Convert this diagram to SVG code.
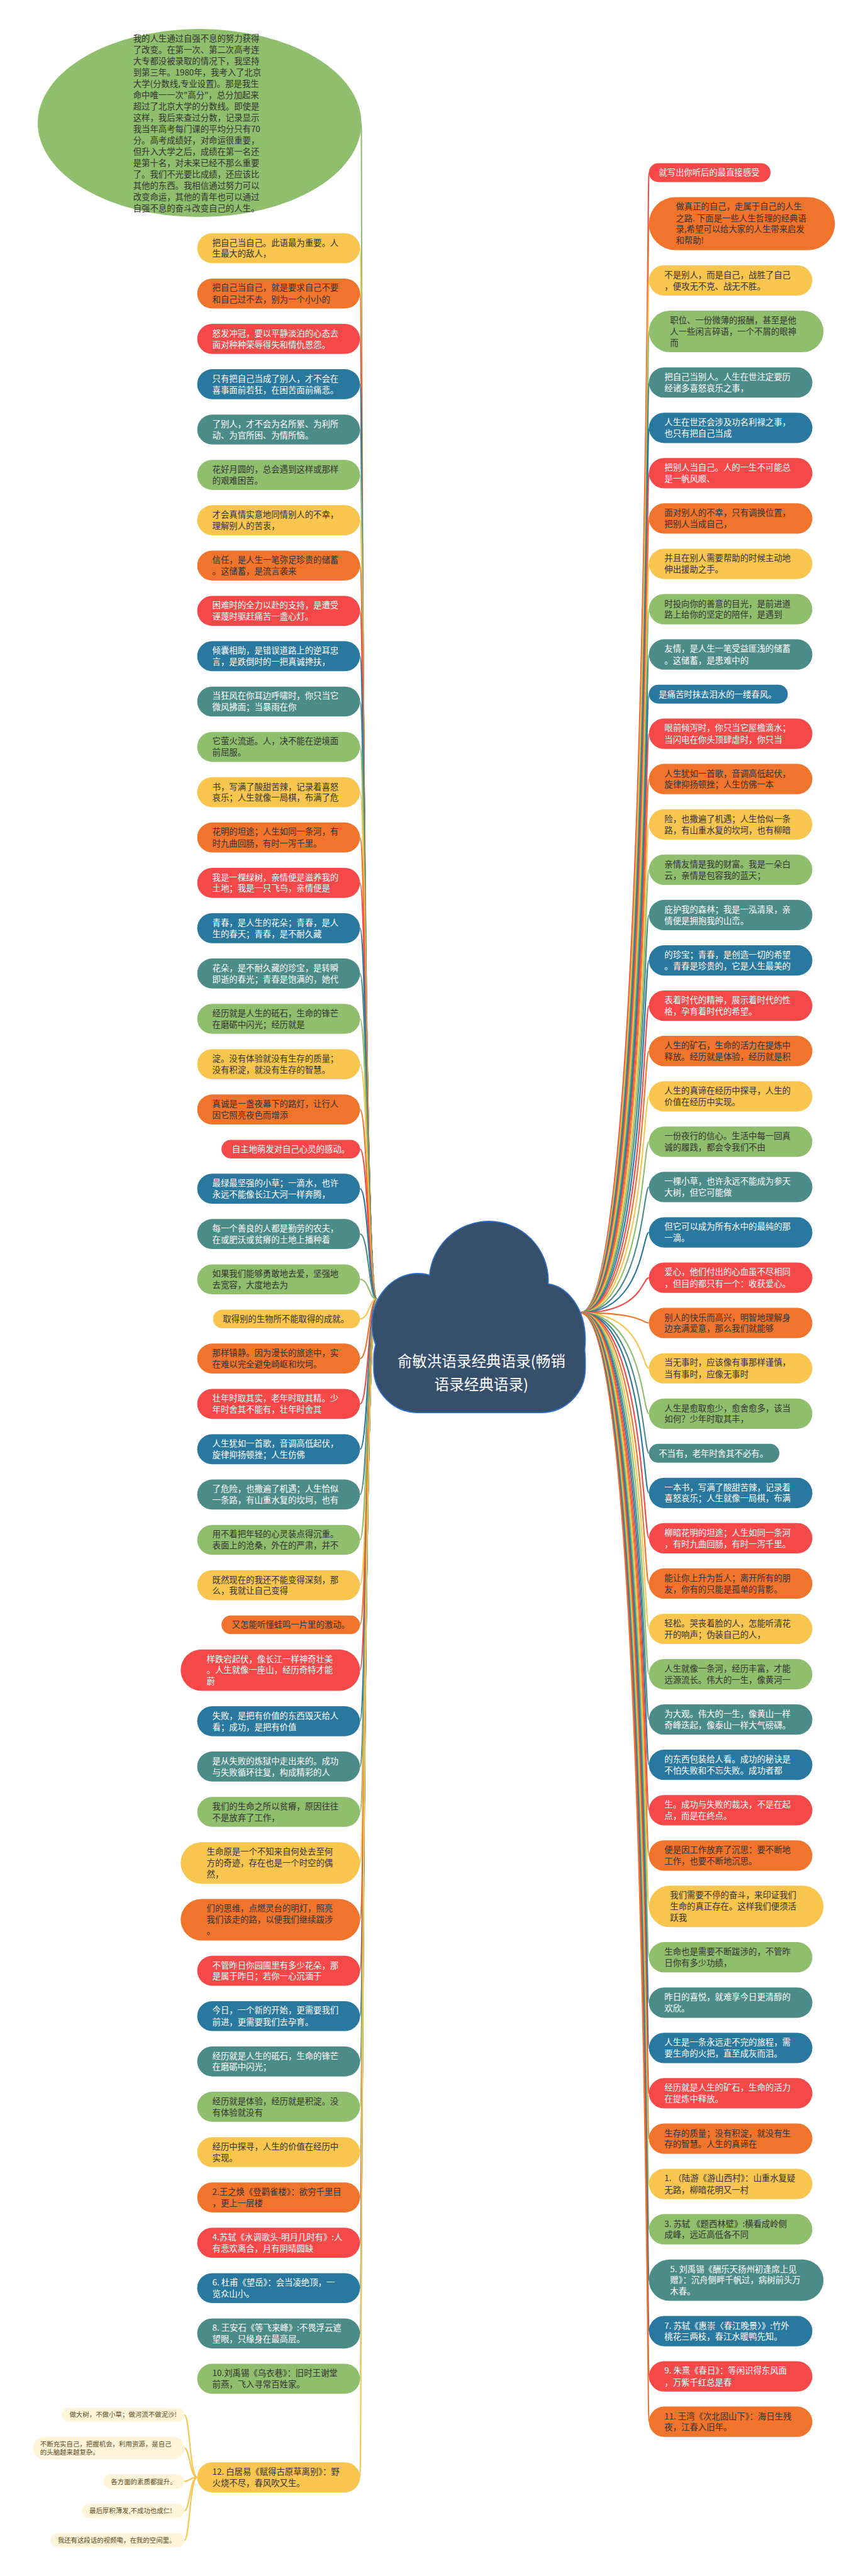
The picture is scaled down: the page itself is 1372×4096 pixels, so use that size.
<svg xmlns="http://www.w3.org/2000/svg" width="1372" height="4096" viewBox="0 0 1372 4096">
<style>
text{font-family:"Noto Sans CJK SC","Noto Sans",sans-serif;font-size:25px}
.d{fill:#333333}
.w{fill:#ffffff}
.g{fill:#8fbe6c}.y{fill:#f8c54e}.o{fill:#f0742c}.r{fill:#f54949}.b{fill:#2878a0}.t{fill:#4b8c88}
#edges path{fill:none;stroke-width:4}
.sg{stroke:#8fbe6c}.sy{stroke:#f8c54e}.so{stroke:#f0742c}.sr{stroke:#f54949}.sb{stroke:#2878a0}.st{stroke:#4b8c88}
.k rect{fill:#fdf4da}
.k text{font-size:19.5px;fill:#5c4b22}
.c text{font-size:44px;fill:#ffffff}
</style>
<rect width="1372" height="4096" fill="#ffffff"/>
<g transform="scale(0.5359)">
<g id="edges">
<path class="sg" d="M1118 3855C1073 3855 1073 365 1072 365"/>
<path class="sy" d="M1118 3855C1075 3855 1075 736.5 1068 736.5"/>
<path class="so" d="M1118 3855C1076 3855 1076 871 1068 871"/>
<path class="sr" d="M1118 3855C1077 3855 1077 1005.5 1068 1005.5"/>
<path class="sb" d="M1118 3855C1078 3855 1078 1140 1068 1140"/>
<path class="st" d="M1118 3855C1079 3855 1079 1274.5 1068 1274.5"/>
<path class="sg" d="M1118 3855C1080 3855 1080 1409 1068 1409"/>
<path class="sy" d="M1118 3855C1080 3855 1080 1543.5 1068 1543.5"/>
<path class="so" d="M1118 3855C1081 3855 1081 1678 1068 1678"/>
<path class="sr" d="M1118 3855C1082 3855 1082 1812.5 1068 1812.5"/>
<path class="sb" d="M1118 3855C1083 3855 1083 1947 1068 1947"/>
<path class="st" d="M1118 3855C1084 3855 1084 2081.5 1068 2081.5"/>
<path class="sg" d="M1118 3855C1085 3855 1085 2216 1068 2216"/>
<path class="sy" d="M1118 3855C1086 3855 1086 2350.5 1068 2350.5"/>
<path class="so" d="M1118 3855C1086 3855 1086 2485 1068 2485"/>
<path class="sr" d="M1118 3855C1087 3855 1087 2619.5 1068 2619.5"/>
<path class="sb" d="M1118 3855C1088 3855 1088 2754 1068 2754"/>
<path class="st" d="M1118 3855C1089 3855 1089 2888.5 1068 2888.5"/>
<path class="sg" d="M1118 3855C1090 3855 1090 3023 1068 3023"/>
<path class="sy" d="M1118 3855C1091 3855 1091 3157.5 1068 3157.5"/>
<path class="so" d="M1118 3855C1091 3855 1091 3292 1068 3292"/>
<path class="sr" d="M1118 3855C1092 3855 1092 3409.5 1068 3409.5"/>
<path class="sb" d="M1118 3855C1093 3855 1093 3527 1068 3527"/>
<path class="st" d="M1118 3855C1094 3855 1094 3661.5 1068 3661.5"/>
<path class="sg" d="M1118 3855C1095 3855 1095 3796 1068 3796"/>
<path class="sy" d="M1118 3855C1095 3855 1095 3913.5 1068 3913.5"/>
<path class="so" d="M1118 3855C1094 3855 1094 4031 1068 4031"/>
<path class="sr" d="M1118 3855C1093 3855 1093 4165.5 1068 4165.5"/>
<path class="sb" d="M1118 3855C1092 3855 1092 4300 1068 4300"/>
<path class="st" d="M1118 3855C1091 3855 1091 4434.5 1068 4434.5"/>
<path class="sg" d="M1118 3855C1090 3855 1090 4569 1068 4569"/>
<path class="sy" d="M1118 3855C1090 3855 1090 4703.5 1068 4703.5"/>
<path class="so" d="M1118 3855C1089 3855 1089 4821 1068 4821"/>
<path class="sr" d="M1118 3855C1088 3855 1088 4955.5 1068 4955.5"/>
<path class="sb" d="M1118 3855C1087 3855 1087 5107 1068 5107"/>
<path class="st" d="M1118 3855C1086 3855 1086 5241.5 1068 5241.5"/>
<path class="sg" d="M1118 3855C1085 3855 1085 5376 1068 5376"/>
<path class="sy" d="M1118 3855C1084 3855 1084 5527.5 1068 5527.5"/>
<path class="so" d="M1118 3855C1083 3855 1083 5696 1068 5696"/>
<path class="sr" d="M1118 3855C1082 3855 1082 5847.5 1068 5847.5"/>
<path class="sb" d="M1118 3855C1082 3855 1082 5982 1068 5982"/>
<path class="st" d="M1118 3855C1081 3855 1081 6116.5 1068 6116.5"/>
<path class="sg" d="M1118 3855C1080 3855 1080 6251 1068 6251"/>
<path class="sy" d="M1118 3855C1079 3855 1079 6385.5 1068 6385.5"/>
<path class="so" d="M1118 3855C1078 3855 1078 6520 1068 6520"/>
<path class="sr" d="M1118 3855C1077 3855 1077 6654.5 1068 6654.5"/>
<path class="sb" d="M1118 3855C1077 3855 1077 6789 1068 6789"/>
<path class="st" d="M1118 3855C1076 3855 1076 6923.5 1068 6923.5"/>
<path class="sg" d="M1118 3855C1075 3855 1075 7058 1068 7058"/>
<path class="sy" d="M1118 3855C1073 3855 1073 7350.5 1068 7350.5"/>
<path class="sr" d="M1722 3895C1920 3895 1920 512 1925 512"/>
<path class="so" d="M1722 3895C1919 3895 1919 663.5 1925 663.5"/>
<path class="sy" d="M1722 3895C1918.5 3895 1918.5 832 1925 832"/>
<path class="sg" d="M1722 3895C1918 3895 1918 983.5 1925 983.5"/>
<path class="st" d="M1722 3895C1917 3895 1917 1135 1925 1135"/>
<path class="sb" d="M1722 3895C1916.5 3895 1916.5 1269.5 1925 1269.5"/>
<path class="sr" d="M1722 3895C1916 3895 1916 1404 1925 1404"/>
<path class="so" d="M1722 3895C1915.5 3895 1915.5 1538.5 1925 1538.5"/>
<path class="sy" d="M1722 3895C1915 3895 1915 1673 1925 1673"/>
<path class="sg" d="M1722 3895C1914 3895 1914 1807.5 1925 1807.5"/>
<path class="st" d="M1722 3895C1913.5 3895 1913.5 1942 1925 1942"/>
<path class="sb" d="M1722 3895C1913 3895 1913 2059.5 1925 2059.5"/>
<path class="sr" d="M1722 3895C1912.5 3895 1912.5 2177 1925 2177"/>
<path class="so" d="M1722 3895C1912 3895 1912 2311.5 1925 2311.5"/>
<path class="sy" d="M1722 3895C1911.5 3895 1911.5 2446 1925 2446"/>
<path class="sg" d="M1722 3895C1911 3895 1911 2580.5 1925 2580.5"/>
<path class="st" d="M1722 3895C1910 3895 1910 2715 1925 2715"/>
<path class="sb" d="M1722 3895C1909.5 3895 1909.5 2849.5 1925 2849.5"/>
<path class="sr" d="M1722 3895C1909 3895 1909 2984 1925 2984"/>
<path class="so" d="M1722 3895C1908.5 3895 1908.5 3118.5 1925 3118.5"/>
<path class="sy" d="M1722 3895C1908 3895 1908 3253 1925 3253"/>
<path class="sg" d="M1722 3895C1907 3895 1907 3387.5 1925 3387.5"/>
<path class="st" d="M1722 3895C1906.5 3895 1906.5 3522 1925 3522"/>
<path class="sb" d="M1722 3895C1906 3895 1906 3656.5 1925 3656.5"/>
<path class="sr" d="M1722 3895C1905.5 3895 1905.5 3791 1925 3791"/>
<path class="so" d="M1722 3895C1905 3895 1905 3925.5 1925 3925.5"/>
<path class="sy" d="M1722 3895C1905.5 3895 1905.5 4060 1925 4060"/>
<path class="sg" d="M1722 3895C1906 3895 1906 4194.5 1925 4194.5"/>
<path class="st" d="M1722 3895C1907 3895 1907 4312 1925 4312"/>
<path class="sb" d="M1722 3895C1907.5 3895 1907.5 4429.5 1925 4429.5"/>
<path class="sr" d="M1722 3895C1908 3895 1908 4564 1925 4564"/>
<path class="so" d="M1722 3895C1908.5 3895 1908.5 4698.5 1925 4698.5"/>
<path class="sy" d="M1722 3895C1909 3895 1909 4833 1925 4833"/>
<path class="sg" d="M1722 3895C1909.5 3895 1909.5 4967.5 1925 4967.5"/>
<path class="st" d="M1722 3895C1910 3895 1910 5102 1925 5102"/>
<path class="sb" d="M1722 3895C1911 3895 1911 5236.5 1925 5236.5"/>
<path class="sr" d="M1722 3895C1911.5 3895 1911.5 5371 1925 5371"/>
<path class="so" d="M1722 3895C1912 3895 1912 5505.5 1925 5505.5"/>
<path class="sy" d="M1722 3895C1913 3895 1913 5656.5 1925 5656.5"/>
<path class="sg" d="M1722 3895C1913.5 3895 1913.5 5807.5 1925 5807.5"/>
<path class="st" d="M1722 3895C1914 3895 1914 5942 1925 5942"/>
<path class="sb" d="M1722 3895C1914.5 3895 1914.5 6076.5 1925 6076.5"/>
<path class="sr" d="M1722 3895C1915 3895 1915 6211 1925 6211"/>
<path class="so" d="M1722 3895C1916 3895 1916 6345.5 1925 6345.5"/>
<path class="sy" d="M1722 3895C1916.5 3895 1916.5 6480 1925 6480"/>
<path class="sg" d="M1722 3895C1917 3895 1917 6614.5 1925 6614.5"/>
<path class="st" d="M1722 3895C1917.5 3895 1917.5 6765.5 1925 6765.5"/>
<path class="sb" d="M1722 3895C1918 3895 1918 6916.5 1925 6916.5"/>
<path class="sr" d="M1722 3895C1919 3895 1919 7051 1925 7051"/>
<path class="so" d="M1722 3895C1919.5 3895 1919.5 7185.5 1925 7185.5"/>
<path class="sy" d="M585 7350.5C563 7350.5 563 7164.5 547 7164.5"/>
<path class="sy" d="M585 7350.5C563 7350.5 563 7263.5 547 7263.5"/>
<path class="sy" d="M585 7350.5C563 7350.5 563 7362.5 547 7362.5"/>
<path class="sy" d="M585 7350.5C563 7350.5 563 7450 547 7450"/>
<path class="sy" d="M585 7350.5C563 7350.5 563 7537 547 7537"/>
</g>

<g id="center" class="c">
<g fill="none" stroke="#2f6fd0" stroke-width="6">
<circle cx="1450" cy="3800" r="175"/><ellipse cx="1240" cy="3930" rx="135" ry="150"/><ellipse cx="1615" cy="3975" rx="120" ry="165"/><rect x="1110" y="3900" width="625" height="290" rx="130"/>
</g>
<g fill="#36506c">
<circle cx="1450" cy="3800" r="175"/><ellipse cx="1240" cy="3930" rx="135" ry="150"/><ellipse cx="1615" cy="3975" rx="120" ry="165"/><rect x="1110" y="3900" width="625" height="290" rx="130"/>
</g>
<text x="1428" y="4054" text-anchor="middle">俞敏洪语录经典语录(畅销</text>
<text x="1428" y="4123" text-anchor="middle">语录经典语录)</text>
</g>

<g id="L0"><ellipse class="g" cx="592" cy="365" rx="480" ry="279"/>
<text class="d"><tspan x="395" y="123">我的人生通过自强不息的努力获得</tspan><tspan x="395" y="156.6">了改变。在第一次、第二次高考连</tspan><tspan x="395" y="190.2">大专都没被录取的情况下，我坚持</tspan><tspan x="395" y="223.8">到第三年。1980年，我考入了北京</tspan><tspan x="395" y="257.4">大学(分数线,专业设置)。那是我生</tspan><tspan x="395" y="291">命中唯一一次"高分"，总分加起来</tspan><tspan x="395" y="324.6">超过了北京大学的分数线。即使是</tspan><tspan x="395" y="358.2">这样，我后来查过分数，记录显示</tspan><tspan x="395" y="391.8">我当年高考每门课的平均分只有70</tspan><tspan x="395" y="425.4">分。高考成绩好，对命运很重要，</tspan><tspan x="395" y="459">但升入大学之后，成绩在第一名还</tspan><tspan x="395" y="492.6">是第十名，对未来已经不那么重要</tspan><tspan x="395" y="526.2">了。我们不光要比成绩，还应该比</tspan><tspan x="395" y="559.8">其他的东西。我相信通过努力可以</tspan><tspan x="395" y="593.4">改变命运，其他的青年也可以通过</tspan><tspan x="395" y="627">自强不息的奋斗改变自己的人生。</tspan></text></g>

<g id="L1"><rect class="y" x="585" y="692" width="483" height="89" rx="44.5"/><text class="d"><tspan x="630" y="729">把自己当自己。此语最为重要。人</tspan><tspan x="630" y="762">生最大的敌人，</tspan></text></g>
<g id="L2"><rect class="o" x="585" y="826.5" width="483" height="89" rx="44.5"/><text class="d"><tspan x="630" y="863">把自己当自己，就是要求自己不要</tspan><tspan x="630" y="897">和自己过不去，别为一个小小的</tspan></text></g>
<g id="L3"><rect class="r" x="585" y="961" width="483" height="89" rx="44.5"/><text class="w"><tspan x="630" y="998">怒发冲冠，要以平静淡泊的心态去</tspan><tspan x="630" y="1031">面对种种荣辱得失和情仇恩怨。</tspan></text></g>
<g id="L4"><rect class="b" x="585" y="1095.5" width="483" height="89" rx="44.5"/><text class="w"><tspan x="630" y="1132">只有把自己当成了别人，才不会在</tspan><tspan x="630" y="1166">喜事面前若狂，在困苦面前痛悲。</tspan></text></g>
<g id="L5"><rect class="t" x="585" y="1230" width="483" height="89" rx="44.5"/><text class="w"><tspan x="630" y="1267">了别人，才不会为名所累、为利所</tspan><tspan x="630" y="1300">动、为官所困、为情所恼。</tspan></text></g>
<g id="L6"><rect class="g" x="585" y="1364.5" width="483" height="89" rx="44.5"/><text class="d"><tspan x="630" y="1401">花好月圆的，总会遇到这样或那样</tspan><tspan x="630" y="1435">的艰难困苦。</tspan></text></g>
<g id="L7"><rect class="y" x="585" y="1499" width="483" height="89" rx="44.5"/><text class="d"><tspan x="630" y="1536">才会真情实意地同情别人的不幸，</tspan><tspan x="630" y="1569">理解别人的苦衷，</tspan></text></g>
<g id="L8"><rect class="o" x="585" y="1633.5" width="483" height="89" rx="44.5"/><text class="d"><tspan x="630" y="1670">信任，是人生一笔弥足珍贵的储蓄</tspan><tspan x="630" y="1704">。这储蓄，是流言袭来</tspan></text></g>
<g id="L9"><rect class="r" x="585" y="1768" width="483" height="89" rx="44.5"/><text class="w"><tspan x="630" y="1805">困难时的全力以赴的支持，是遭受</tspan><tspan x="630" y="1838">诬蔑时驱赶痛苦一盏心灯。</tspan></text></g>
<g id="L10"><rect class="b" x="585" y="1902.5" width="483" height="89" rx="44.5"/><text class="w"><tspan x="630" y="1939">倾囊相助，是错误道路上的逆耳忠</tspan><tspan x="630" y="1973">言，是跌倒时的一把真诚搀扶，</tspan></text></g>
<g id="L11"><rect class="t" x="585" y="2037" width="483" height="89" rx="44.5"/><text class="w"><tspan x="630" y="2074">当狂风在你耳边呼啸时，你只当它</tspan><tspan x="630" y="2107">微风拂面；当暴雨在你</tspan></text></g>
<g id="L12"><rect class="g" x="585" y="2171.5" width="483" height="89" rx="44.5"/><text class="d"><tspan x="630" y="2208">它萤火流逝。人，决不能在逆境面</tspan><tspan x="630" y="2242">前屈服。</tspan></text></g>
<g id="L13"><rect class="y" x="585" y="2306" width="483" height="89" rx="44.5"/><text class="d"><tspan x="630" y="2343">书，写满了酸甜苦辣，记录着喜怒</tspan><tspan x="630" y="2376">哀乐；人生就像一局棋，布满了危</tspan></text></g>
<g id="L14"><rect class="o" x="585" y="2440.5" width="483" height="89" rx="44.5"/><text class="d"><tspan x="630" y="2477">花明的坦途；人生如同一条河，有</tspan><tspan x="630" y="2511">时九曲回肠，有时一泻千里。</tspan></text></g>
<g id="L15"><rect class="r" x="585" y="2575" width="483" height="89" rx="44.5"/><text class="w"><tspan x="630" y="2612">我是一棵绿树，亲情便是滋养我的</tspan><tspan x="630" y="2645">土地；我是一只飞鸟，亲情便是</tspan></text></g>
<g id="L16"><rect class="b" x="585" y="2709.5" width="483" height="89" rx="44.5"/><text class="w"><tspan x="630" y="2746">青春，是人生的花朵；青春，是人</tspan><tspan x="630" y="2780">生的春天；青春，是不耐久藏</tspan></text></g>
<g id="L17"><rect class="t" x="585" y="2844" width="483" height="89" rx="44.5"/><text class="w"><tspan x="630" y="2881">花朵，是不耐久藏的珍宝，是转瞬</tspan><tspan x="630" y="2914">即逝的春光；青春是饱满的，她代</tspan></text></g>
<g id="L18"><rect class="g" x="585" y="2978.5" width="483" height="89" rx="44.5"/><text class="d"><tspan x="630" y="3015">经历就是人生的砥石，生命的锋芒</tspan><tspan x="630" y="3049">在磨砺中闪光；经历就是</tspan></text></g>
<g id="L19"><rect class="y" x="585" y="3113" width="483" height="89" rx="44.5"/><text class="d"><tspan x="630" y="3150">淀。没有体验就没有生存的质量；</tspan><tspan x="630" y="3183">没有积淀，就没有生存的智慧。</tspan></text></g>
<g id="L20"><rect class="o" x="585" y="3247.5" width="483" height="89" rx="44.5"/><text class="d"><tspan x="630" y="3284">真诚是一盏夜幕下的路灯，让行人</tspan><tspan x="630" y="3318">因它照亮夜色而增添</tspan></text></g>
<g id="L21"><rect class="r" x="657" y="3382" width="411" height="55" rx="27.5"/><text class="w" x="688" y="3418.5">自主地萌发对自己心灵的感动。</text></g>
<g id="L22"><rect class="b" x="585" y="3482.5" width="483" height="89" rx="44.5"/><text class="w"><tspan x="630" y="3519">最绿最坚强的小草；一滴水，也许</tspan><tspan x="630" y="3553">永远不能像长江大河一样奔腾，</tspan></text></g>
<g id="L23"><rect class="t" x="585" y="3617" width="483" height="89" rx="44.5"/><text class="w"><tspan x="630" y="3654">每一个善良的人都是勤劳的农夫，</tspan><tspan x="630" y="3687">在或肥沃或贫瘠的土地上播种着</tspan></text></g>
<g id="L24"><rect class="g" x="585" y="3751.5" width="483" height="89" rx="44.5"/><text class="d"><tspan x="630" y="3788">如果我们能够勇敢地去爱，坚强地</tspan><tspan x="630" y="3822">去宽容，大度地去为</tspan></text></g>
<g id="L25"><rect class="y" x="632" y="3886" width="436" height="55" rx="27.5"/><text class="d" x="661" y="3922.5">取得别的生物所不能取得的成就。</text></g>
<g id="L26"><rect class="o" x="585" y="3986.5" width="483" height="89" rx="44.5"/><text class="d"><tspan x="630" y="4023">那样镇静。因为漫长的旅途中，实</tspan><tspan x="630" y="4057">在难以完全避免崎岖和坎坷。</tspan></text></g>
<g id="L27"><rect class="r" x="585" y="4121" width="483" height="89" rx="44.5"/><text class="w"><tspan x="630" y="4158">壮年时取其实，老年时取其精。少</tspan><tspan x="630" y="4191">年时舍其不能有，壮年时舍其</tspan></text></g>
<g id="L28"><rect class="b" x="585" y="4255.5" width="483" height="89" rx="44.5"/><text class="w"><tspan x="630" y="4292">人生犹如一首歌，音调高低起伏，</tspan><tspan x="630" y="4326">旋律抑扬顿挫；人生仿佛</tspan></text></g>
<g id="L29"><rect class="t" x="585" y="4390" width="483" height="89" rx="44.5"/><text class="w"><tspan x="630" y="4427">了危险，也撒遍了机遇；人生恰似</tspan><tspan x="630" y="4460">一条路，有山重水复的坎坷，也有</tspan></text></g>
<g id="L30"><rect class="g" x="585" y="4524.5" width="483" height="89" rx="44.5"/><text class="d"><tspan x="630" y="4561">用不着把年轻的心灵装点得沉重。</tspan><tspan x="630" y="4595">表面上的沧桑，外在的严肃，并不</tspan></text></g>
<g id="L31"><rect class="y" x="585" y="4659" width="483" height="89" rx="44.5"/><text class="d"><tspan x="630" y="4696">既然现在的我还不能变得深刻，那</tspan><tspan x="630" y="4729">么，我就让自己变得</tspan></text></g>
<g id="L32"><rect class="o" x="657" y="4793.5" width="411" height="55" rx="27.5"/><text class="d" x="688" y="4830">又怎能听懂蛙鸣一片里的激动。</text></g>
<g id="L33"><rect class="r" x="536" y="4894" width="532" height="123" rx="61.5"/><text class="w"><tspan x="613" y="4931">样跌宕起伏，像长江一样神奇壮美</tspan><tspan x="613" y="4964.5">。人生就像一座山，经历奇特才能</tspan><tspan x="613" y="4998">蔚</tspan></text></g>
<g id="L34"><rect class="b" x="585" y="5062.5" width="483" height="89" rx="44.5"/><text class="w"><tspan x="630" y="5099">失败，是把有价值的东西毁灭给人</tspan><tspan x="630" y="5133">看；成功，是把有价值</tspan></text></g>
<g id="L35"><rect class="t" x="585" y="5197" width="483" height="89" rx="44.5"/><text class="w"><tspan x="630" y="5234">是从失败的炼狱中走出来的。成功</tspan><tspan x="630" y="5267">与失败循环往复，构成精彩的人</tspan></text></g>
<g id="L36"><rect class="g" x="585" y="5331.5" width="483" height="89" rx="44.5"/><text class="d"><tspan x="630" y="5368">我们的生命之所以贫瘠，原因往往</tspan><tspan x="630" y="5402">不是放弃了工作，</tspan></text></g>
<g id="L37"><rect class="y" x="536" y="5466" width="532" height="123" rx="61.5"/><text class="d"><tspan x="613" y="5503">生命原是一个不知来自何处去至何</tspan><tspan x="613" y="5536.5">方的奇迹，存在也是一个时空的偶</tspan><tspan x="613" y="5570">然，</tspan></text></g>
<g id="L38"><rect class="o" x="536" y="5634.5" width="532" height="123" rx="61.5"/><text class="d"><tspan x="613" y="5671.5">们的思维，点燃灵台的明灯，照亮</tspan><tspan x="613" y="5705">我们该走的路，以便我们继续跋涉</tspan><tspan x="613" y="5738.5">。</tspan></text></g>
<g id="L39"><rect class="r" x="585" y="5803" width="483" height="89" rx="44.5"/><text class="w"><tspan x="630" y="5840">不管昨日你园圃里有多少花朵，那</tspan><tspan x="630" y="5873">是属于昨日；若你一心沉湎于</tspan></text></g>
<g id="L40"><rect class="b" x="585" y="5937.5" width="483" height="89" rx="44.5"/><text class="w"><tspan x="630" y="5974">今日，一个新的开始，更需要我们</tspan><tspan x="630" y="6008">前进，更需要我们去孕育。</tspan></text></g>
<g id="L41"><rect class="t" x="585" y="6072" width="483" height="89" rx="44.5"/><text class="w"><tspan x="630" y="6109">经历就是人生的砥石，生命的锋芒</tspan><tspan x="630" y="6142">在磨砺中闪光；</tspan></text></g>
<g id="L42"><rect class="g" x="585" y="6206.5" width="483" height="89" rx="44.5"/><text class="d"><tspan x="630" y="6243">经历就是体验，经历就是积淀。没</tspan><tspan x="630" y="6277">有体验就没有</tspan></text></g>
<g id="L43"><rect class="y" x="585" y="6341" width="483" height="89" rx="44.5"/><text class="d"><tspan x="630" y="6378">经历中探寻，人生的价值在经历中</tspan><tspan x="630" y="6411">实现。</tspan></text></g>
<g id="L44"><rect class="o" x="585" y="6475.5" width="483" height="89" rx="44.5"/><text class="d"><tspan x="630" y="6512">2.王之焕《登鹳雀楼》：欲穷千里目</tspan><tspan x="630" y="6546">，更上一层楼</tspan></text></g>
<g id="L45"><rect class="r" x="585" y="6610" width="483" height="89" rx="44.5"/><text class="w"><tspan x="630" y="6647">4.苏轼《水调歌头-明月几时有》:人</tspan><tspan x="630" y="6680">有悲欢离合，月有阴晴圆缺</tspan></text></g>
<g id="L46"><rect class="b" x="585" y="6744.5" width="483" height="89" rx="44.5"/><text class="w"><tspan x="630" y="6781">6. 杜甫《望岳》：会当凌绝顶，一</tspan><tspan x="630" y="6815">览众山小。</tspan></text></g>
<g id="L47"><rect class="t" x="585" y="6879" width="483" height="89" rx="44.5"/><text class="w"><tspan x="630" y="6916">8. 王安石《等飞来峰》:不畏浮云遮</tspan><tspan x="630" y="6949">望眼，只缘身在最高层。</tspan></text></g>
<g id="L48"><rect class="g" x="585" y="7013.5" width="483" height="89" rx="44.5"/><text class="d"><tspan x="630" y="7050">10.刘禹锡《乌衣巷》：旧时王谢堂</tspan><tspan x="630" y="7084">前燕，飞入寻常百姓家。</tspan></text></g>
<g id="L49"><rect class="y" x="585" y="7306" width="483" height="89" rx="44.5"/><text class="d"><tspan x="630" y="7343">12. 白居易《赋得古原草离别》：野</tspan><tspan x="630" y="7376">火烧不尽，春风吹又生。</tspan></text></g>

<g id="K1" class="k"><rect x="183" y="7144" width="364" height="41" rx="20.5"/><text x="206" y="7172">做大树，不做小草；做河流不做泥沙!</text></g>
<g id="K2" class="k"><rect x="98" y="7230" width="449" height="67" rx="33.5"/><text><tspan x="119" y="7258">不断充实自己，把握机会，利用资源，是自己</tspan><tspan x="119" y="7283">的头脑越来越复杂。</tspan></text></g>
<g id="K3" class="k"><rect x="307" y="7341" width="240" height="43" rx="21.5"/><text x="329" y="7370">各方面的素质都提升。</text></g>
<g id="K4" class="k"><rect x="243" y="7429" width="304" height="42" rx="21"/><text x="265" y="7457">最后厚积薄发,不成功也成仁!</text></g>
<g id="K5" class="k"><rect x="150" y="7516" width="397" height="42" rx="21"/><text x="171" y="7544">我还有这段话的视频嘞，在我的空间里。</text></g>

<g id="R1"><rect class="r" x="1925" y="484" width="361" height="56" rx="28"/><text class="w" x="1954" y="521">就写出你听后的最直接感受</text></g>
<g id="R2"><rect class="o" x="1925" y="585" width="552" height="157" rx="78.5"/><text class="d"><tspan x="2005" y="622">做真正的自己，走属于自己的人生</tspan><tspan x="2005" y="656">之路. 下面是一些人生哲理的经典语</tspan><tspan x="2005" y="689">录,希望可以给大家的人生带来启发</tspan><tspan x="2005" y="723">和帮助!</tspan></text></g>
<g id="R3"><rect class="y" x="1925" y="787" width="485" height="90" rx="45"/><text class="d"><tspan x="1971" y="824">不是别人，而是自己，战胜了自己</tspan><tspan x="1971" y="858">，便攻无不克、战无不胜。</tspan></text></g>
<g id="R4"><rect class="g" x="1925" y="922" width="518" height="123" rx="61.5"/><text class="d"><tspan x="1988" y="959">职位、一份微薄的报酬，甚至是他</tspan><tspan x="1988" y="992.5">人一些闲言碎语，一个不屑的眼神</tspan><tspan x="1988" y="1026">而</tspan></text></g>
<g id="R5"><rect class="t" x="1925" y="1090" width="485" height="90" rx="45"/><text class="w"><tspan x="1971" y="1127">把自己当别人。人生在世注定要历</tspan><tspan x="1971" y="1161">经诸多喜怒哀乐之事，</tspan></text></g>
<g id="R6"><rect class="b" x="1925" y="1224.5" width="485" height="90" rx="45"/><text class="w"><tspan x="1971" y="1262">人生在世还会涉及功名利禄之事，</tspan><tspan x="1971" y="1295">也只有把自己当成</tspan></text></g>
<g id="R7"><rect class="r" x="1925" y="1359" width="485" height="90" rx="45"/><text class="w"><tspan x="1971" y="1396">把别人当自己。人的一生不可能总</tspan><tspan x="1971" y="1430">是一帆风顺、</tspan></text></g>
<g id="R8"><rect class="o" x="1925" y="1493.5" width="485" height="90" rx="45"/><text class="d"><tspan x="1971" y="1531">面对别人的不幸，只有调换位置，</tspan><tspan x="1971" y="1564">把别人当成自己，</tspan></text></g>
<g id="R9"><rect class="y" x="1925" y="1628" width="485" height="90" rx="45"/><text class="d"><tspan x="1971" y="1665">并且在别人需要帮助的时候主动地</tspan><tspan x="1971" y="1699">伸出援助之手。</tspan></text></g>
<g id="R10"><rect class="g" x="1925" y="1762.5" width="485" height="90" rx="45"/><text class="d"><tspan x="1971" y="1800">时投向你的善意的目光，是前进道</tspan><tspan x="1971" y="1833">路上给你的坚定的陪伴，是遇到</tspan></text></g>
<g id="R11"><rect class="t" x="1925" y="1897" width="485" height="90" rx="45"/><text class="w"><tspan x="1971" y="1934">友情，是人生一笔受益匪浅的储蓄</tspan><tspan x="1971" y="1968">。这储蓄，是患难中的</tspan></text></g>
<g id="R12"><rect class="b" x="1925" y="2031.5" width="412" height="56" rx="28"/><text class="w" x="1954" y="2068.5">是痛苦时抹去泪水的一缕春风。</text></g>
<g id="R13"><rect class="r" x="1925" y="2132" width="485" height="90" rx="45"/><text class="w"><tspan x="1971" y="2169">眼前倾泻时，你只当它屋檐滴水；</tspan><tspan x="1971" y="2203">当闪电在你头顶肆虐时，你只当</tspan></text></g>
<g id="R14"><rect class="o" x="1925" y="2266.5" width="485" height="90" rx="45"/><text class="d"><tspan x="1971" y="2304">人生犹如一首歌，音调高低起伏，</tspan><tspan x="1971" y="2337">旋律抑扬顿挫；人生仿佛一本</tspan></text></g>
<g id="R15"><rect class="y" x="1925" y="2401" width="485" height="90" rx="45"/><text class="d"><tspan x="1971" y="2438">险，也撒遍了机遇；人生恰似一条</tspan><tspan x="1971" y="2472">路，有山重水复的坎坷，也有柳暗</tspan></text></g>
<g id="R16"><rect class="g" x="1925" y="2535.5" width="485" height="90" rx="45"/><text class="d"><tspan x="1971" y="2573">亲情友情是我的财富。我是一朵白</tspan><tspan x="1971" y="2606">云，亲情是包容我的蓝天；</tspan></text></g>
<g id="R17"><rect class="t" x="1925" y="2670" width="485" height="90" rx="45"/><text class="w"><tspan x="1971" y="2707">庇护我的森林；我是一泓清泉，亲</tspan><tspan x="1971" y="2741">情便是拥抱我的山峦。</tspan></text></g>
<g id="R18"><rect class="b" x="1925" y="2804.5" width="485" height="90" rx="45"/><text class="w"><tspan x="1971" y="2842">的珍宝；青春，是创造一切的希望</tspan><tspan x="1971" y="2875">。青春是珍贵的，它是人生最美的</tspan></text></g>
<g id="R19"><rect class="r" x="1925" y="2939" width="485" height="90" rx="45"/><text class="w"><tspan x="1971" y="2976">表着时代的精神，展示着时代的性</tspan><tspan x="1971" y="3010">格，孕育着时代的希望。</tspan></text></g>
<g id="R20"><rect class="o" x="1925" y="3073.5" width="485" height="90" rx="45"/><text class="d"><tspan x="1971" y="3111">人生的矿石，生命的活力在提炼中</tspan><tspan x="1971" y="3144">释放。经历就是体验，经历就是积</tspan></text></g>
<g id="R21"><rect class="y" x="1925" y="3208" width="485" height="90" rx="45"/><text class="d"><tspan x="1971" y="3245">人生的真谛在经历中探寻，人生的</tspan><tspan x="1971" y="3279">价值在经历中实现。</tspan></text></g>
<g id="R22"><rect class="g" x="1925" y="3342.5" width="485" height="90" rx="45"/><text class="d"><tspan x="1971" y="3380">一份夜行的信心。生活中每一回真</tspan><tspan x="1971" y="3413">诚的履践，都会令我们不由</tspan></text></g>
<g id="R23"><rect class="t" x="1925" y="3477" width="485" height="90" rx="45"/><text class="w"><tspan x="1971" y="3514">一棵小草，也许永远不能成为参天</tspan><tspan x="1971" y="3548">大树，但它可能做</tspan></text></g>
<g id="R24"><rect class="b" x="1925" y="3611.5" width="485" height="90" rx="45"/><text class="w"><tspan x="1971" y="3649">但它可以成为所有水中的最纯的那</tspan><tspan x="1971" y="3682">一滴。</tspan></text></g>
<g id="R25"><rect class="r" x="1925" y="3746" width="485" height="90" rx="45"/><text class="w"><tspan x="1971" y="3783">爱心，他们付出的心血虽不尽相同</tspan><tspan x="1971" y="3817">，但目的都只有一个：收获爱心。</tspan></text></g>
<g id="R26"><rect class="o" x="1925" y="3880.5" width="485" height="90" rx="45"/><text class="d"><tspan x="1971" y="3918">别人的快乐而高兴，明智地理解身</tspan><tspan x="1971" y="3951">边充满爱意，那么我们就能够</tspan></text></g>
<g id="R27"><rect class="y" x="1925" y="4015" width="485" height="90" rx="45"/><text class="d"><tspan x="1971" y="4052">当无事时，应该像有事那样谨慎，</tspan><tspan x="1971" y="4086">当有事时，应像无事时</tspan></text></g>
<g id="R28"><rect class="g" x="1925" y="4149.5" width="485" height="90" rx="45"/><text class="d"><tspan x="1971" y="4187">人生是愈取愈少，愈舍愈多，该当</tspan><tspan x="1971" y="4220">如何？少年时取其丰，</tspan></text></g>
<g id="R29"><rect class="t" x="1925" y="4284" width="387" height="56" rx="28"/><text class="w" x="1954" y="4321">不当有，老年时舍其不必有。</text></g>
<g id="R30"><rect class="b" x="1925" y="4384.5" width="485" height="90" rx="45"/><text class="w"><tspan x="1971" y="4422">一本书，写满了酸甜苦辣，记录着</tspan><tspan x="1971" y="4455">喜怒哀乐；人生就像一局棋，布满</tspan></text></g>
<g id="R31"><rect class="r" x="1925" y="4519" width="485" height="90" rx="45"/><text class="w"><tspan x="1971" y="4556">柳暗花明的坦途；人生如同一条河</tspan><tspan x="1971" y="4590">，有时九曲回肠，有时一泻千里。</tspan></text></g>
<g id="R32"><rect class="o" x="1925" y="4653.5" width="485" height="90" rx="45"/><text class="d"><tspan x="1971" y="4691">能让你上升为哲人；离开所有的朋</tspan><tspan x="1971" y="4724">友，你有的只能是孤单的背影。</tspan></text></g>
<g id="R33"><rect class="y" x="1925" y="4788" width="485" height="90" rx="45"/><text class="d"><tspan x="1971" y="4825">轻松。哭丧着脸的人，怎能听清花</tspan><tspan x="1971" y="4859">开的响声；伪装自己的人，</tspan></text></g>
<g id="R34"><rect class="g" x="1925" y="4922.5" width="485" height="90" rx="45"/><text class="d"><tspan x="1971" y="4960">人生就像一条河，经历丰富，才能</tspan><tspan x="1971" y="4993">远源流长。伟大的一生，像黄河一</tspan></text></g>
<g id="R35"><rect class="t" x="1925" y="5057" width="485" height="90" rx="45"/><text class="w"><tspan x="1971" y="5094">为大观。伟大的一生，像黄山一样</tspan><tspan x="1971" y="5128">奇峰迭起，像泰山一样大气磅礴。</tspan></text></g>
<g id="R36"><rect class="b" x="1925" y="5191.5" width="485" height="90" rx="45"/><text class="w"><tspan x="1971" y="5229">的东西包装给人看。成功的秘诀是</tspan><tspan x="1971" y="5262">不怕失败和不忘失败。成功者都</tspan></text></g>
<g id="R37"><rect class="r" x="1925" y="5326" width="485" height="90" rx="45"/><text class="w"><tspan x="1971" y="5363">生。成功与失败的裁决，不是在起</tspan><tspan x="1971" y="5397">点，而是在终点。</tspan></text></g>
<g id="R38"><rect class="o" x="1925" y="5460.5" width="485" height="90" rx="45"/><text class="d"><tspan x="1971" y="5498">便是因工作放弃了沉思：要不断地</tspan><tspan x="1971" y="5531">工作，也要不断地沉思。</tspan></text></g>
<g id="R39"><rect class="y" x="1925" y="5595" width="518" height="123" rx="61.5"/><text class="d"><tspan x="1988" y="5632">我们需要不停的奋斗，来印证我们</tspan><tspan x="1988" y="5665.5">生命的真正存在。这样我们便须活</tspan><tspan x="1988" y="5699">跃我</tspan></text></g>
<g id="R40"><rect class="g" x="1925" y="5762.5" width="485" height="90" rx="45"/><text class="d"><tspan x="1971" y="5800">生命也是需要不断跋涉的，不管昨</tspan><tspan x="1971" y="5833">日你有多少功绩，</tspan></text></g>
<g id="R41"><rect class="t" x="1925" y="5897" width="485" height="90" rx="45"/><text class="w"><tspan x="1971" y="5934">昨日的喜悦，就难享今日更清醇的</tspan><tspan x="1971" y="5968">欢欣。</tspan></text></g>
<g id="R42"><rect class="b" x="1925" y="6031.5" width="485" height="90" rx="45"/><text class="w"><tspan x="1971" y="6069">人生是一条永远走不完的旅程，需</tspan><tspan x="1971" y="6102">要生命的火把，直至成灰而泪。</tspan></text></g>
<g id="R43"><rect class="r" x="1925" y="6166" width="485" height="90" rx="45"/><text class="w"><tspan x="1971" y="6203">经历就是人生的矿石，生命的活力</tspan><tspan x="1971" y="6237">在提炼中释放。</tspan></text></g>
<g id="R44"><rect class="o" x="1925" y="6300.5" width="485" height="90" rx="45"/><text class="d"><tspan x="1971" y="6338">生存的质量；没有积淀，就没有生</tspan><tspan x="1971" y="6371">存的智慧。人生的真谛在</tspan></text></g>
<g id="R45"><rect class="y" x="1925" y="6435" width="485" height="90" rx="45"/><text class="d"><tspan x="1971" y="6472">1. （陆游《游山西村》：山重水复疑</tspan><tspan x="1971" y="6506">无路，柳暗花明又一村</tspan></text></g>
<g id="R46"><rect class="g" x="1925" y="6569.5" width="485" height="90" rx="45"/><text class="d"><tspan x="1971" y="6607">3. 苏轼 《题西林壁》:横看成岭侧</tspan><tspan x="1971" y="6640">成峰，远近高低各不同</tspan></text></g>
<g id="R47"><rect class="t" x="1925" y="6704" width="518" height="123" rx="61.5"/><text class="w"><tspan x="1988" y="6741">5. 刘禹锡《酬乐天扬州初逢席上见</tspan><tspan x="1988" y="6774.5">赠》：沉舟侧畔千帆过，病树前头万</tspan><tspan x="1988" y="6808">木春。</tspan></text></g>
<g id="R48"><rect class="b" x="1925" y="6871.5" width="485" height="90" rx="45"/><text class="w"><tspan x="1971" y="6909">7. 苏轼《惠崇〈春江晚景〉》:竹外</tspan><tspan x="1971" y="6942">桃花三两枝，春江水暖鸭先知。</tspan></text></g>
<g id="R49"><rect class="r" x="1925" y="7006" width="485" height="90" rx="45"/><text class="w"><tspan x="1971" y="7043">9. 朱熹《春日》：等闲识得东风面</tspan><tspan x="1971" y="7077">，万紫千红总是春</tspan></text></g>
<g id="R50"><rect class="o" x="1925" y="7140.5" width="485" height="90" rx="45"/><text class="d"><tspan x="1971" y="7178">11. 王湾《次北固山下》：海日生残</tspan><tspan x="1971" y="7211">夜，江春入旧年。</tspan></text></g>
</g>
</svg>
